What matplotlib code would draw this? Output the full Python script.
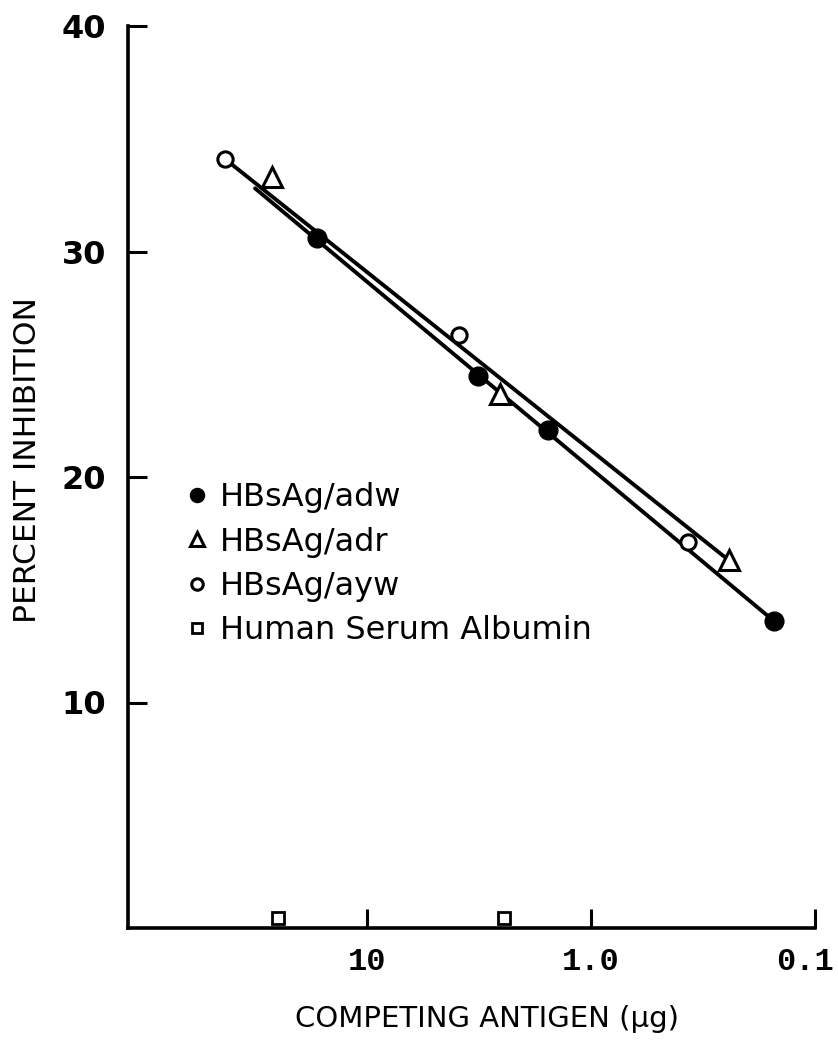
import numpy as np
import matplotlib.pyplot as plt
import matplotlib.transforms as mtransforms

plt.rcParams.update({
    "font.family": ["DejaVu Sans Condensed", "Liberation Sans Narrow", "DejaVu Sans"],
})

# data (x in micrograms, y in percent inhibition)
adw_x = [16.7, 3.19, 1.56, 0.152]
adw_y = [30.6, 24.5, 22.1, 13.6]
adr_x = [26.5, 2.55, 0.242]
adr_y = [33.3, 23.7, 16.3]
ayw_x = [43.0, 3.88, 0.369]
ayw_y = [34.1, 26.3, 17.1]
hsa_x = [25.0, 2.45]
hsa_y = [0.45, 0.45]

# the two drawn regression lines (end points)
line_upper_x = [43.0, 0.242]
line_upper_y = [34.1, 16.3]
line_lower_x = [31.6, 0.152]
line_lower_y = [32.8, 13.6]

xticks = [10, 1.0, 0.1]
xticklabels = ['10', '1.0', '0.1']
yticks = [10, 20, 30, 40]

fig = plt.figure(figsize=(8.38, 10.53), dpi=100)
ax = fig.add_axes([128/838, 125/1053, 687/838, 902/1053])

ax.plot(line_upper_x, line_upper_y, color='black', linewidth=2.8, solid_capstyle='round')
ax.plot(line_lower_x, line_lower_y, color='black', linewidth=2.8, solid_capstyle='round')

ax.plot(adw_x, adw_y, linestyle='none', marker='o', markersize=13.5, color='black',
        label='HBsAg/adw', zorder=3)
ax.plot(adr_x, adr_y, linestyle='none', marker='^', markersize=14, markerfacecolor='white',
        markeredgecolor='black', markeredgewidth=2.2, label='HBsAg/adr', zorder=3)
ax.plot(ayw_x, ayw_y, linestyle='none', marker='o', markersize=11, markerfacecolor='white',
        markeredgecolor='black', markeredgewidth=2.2, label='HBsAg/ayw', zorder=3)
ax.plot(hsa_x, hsa_y, linestyle='none', marker='s', markersize=9, markerfacecolor='white',
        markeredgecolor='black', markeredgewidth=2, label='Human Serum Albumin',
        clip_on=False, zorder=3)

ax.set_xscale('log')
ax.set_xlim(10**(1 + (367-128)/224), 0.1)
ax.set_ylim(0, 40)
ax.set_xticks(xticks)
ax.set_xticklabels(xticklabels, family='Liberation Mono', fontweight='bold', fontsize=23)
ax.xaxis.set_minor_locator(plt.NullLocator())
ax.set_yticks(yticks)
ax.set_yticklabels([str(t) for t in yticks], fontweight='bold', fontsize=23)

ax.spines['top'].set_visible(False)
ax.spines['right'].set_visible(False)
ax.spines['left'].set_linewidth(2.6)
ax.spines['bottom'].set_linewidth(2.6)
ax.tick_params(axis='both', direction='in', length=14, width=2.2)
ax.tick_params(axis='y', pad=16)
ax.tick_params(axis='x', pad=14)

# last x label sits against the right edge in the original
lab = ax.get_xticklabels()[-1]
lab.set_transform(lab.get_transform() + mtransforms.ScaledTranslation(-10/100, 0, fig.dpi_scale_trans))

ax.set_xlabel('COMPETING ANTIGEN (µg)', fontsize=21)
ax.set_ylabel('PERCENT INHIBITION', fontsize=22.5)
ax.xaxis.set_label_coords(0.523, -0.085)
ax.yaxis.set_label_coords(-0.125, 0.519)

plt.legend(loc='upper left', bbox_to_anchor=(0.059, 0.512), frameon=False,
           fontsize=23, markerscale=0.75, handlelength=0.8, handletextpad=0.3,
           labelspacing=0.42, borderpad=0)

plt.savefig('out.png', dpi=100)
